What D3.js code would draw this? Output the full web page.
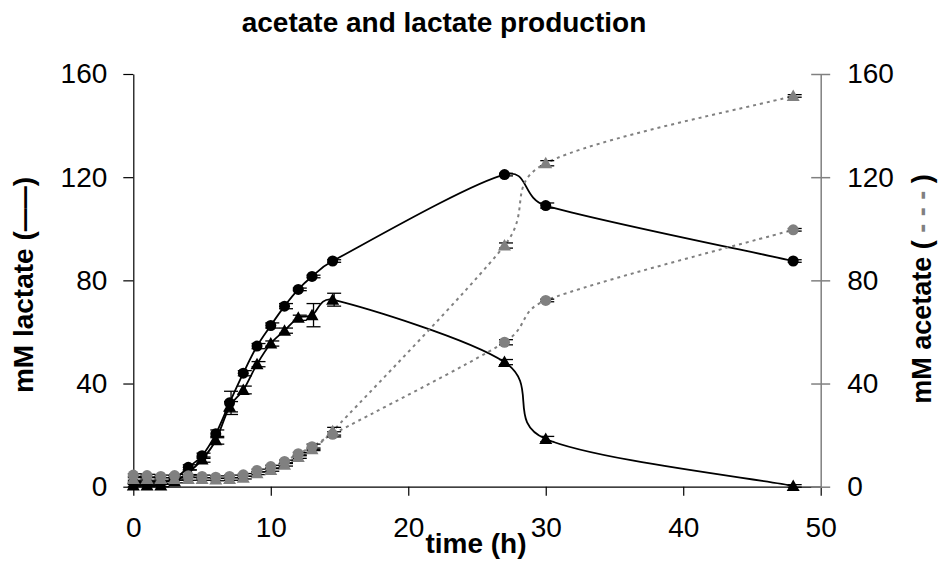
<!DOCTYPE html>
<html><head><meta charset="utf-8">
<script src="https://cdn.jsdelivr.net/npm/d3@7"></script>
<style>
body{margin:0;background:#fff}
text{font-family:"Liberation Sans",Arial,sans-serif}
</style></head>
<body><svg id="c" width="938" height="561"></svg>
<script>
const times = [0,1,2,3,4,5,6,7,8,9,10,11,12,13,14.5,27,30,48];
const lactateCircles = [1.5,1.5,1.5,3,7.5,12,20.5,32.5,44,54.5,62.5,70,76.5,81.5,87.5,121,109,87.5];
const lactateCirclesErr = [0.5,0.5,0.5,0.5,1,1,1.5,4.5,1,1,1,1,0.5,0.5,0.5,0.5,1,0.5];
const lactateTriangles = [0.5,0.5,0.5,2,5.5,10.5,18,31,37.5,47.5,55.5,60.5,65.5,66.5,72.5,48.3,18.5,0.3];
const lactateTrianglesErr = [0.5,0.5,0.5,0.5,1,1,1.5,2,1.5,1,1,1,1,4.5,2.5,1,1,0.5];
const acetateCircles = [4.5,4.3,4,4.3,4.2,4,3.7,4,4.6,6.3,7.8,9.8,12.8,15.5,20.3,56,72.2,99.6];
const acetateCirclesErr = [0.5,0.5,0.5,0.5,0.5,0.5,0.5,0.5,0.5,0.5,0.5,0.5,0.5,1,1,1,0.5,0.5];
const acetateTriangles = [3,3,3,3,3,3,2.8,3,3.5,5.2,6.5,8.5,11.5,14.5,21.5,93.5,125.4,151.5];
const acetateTrianglesErr = [0.5,0.5,0.5,0.5,0.5,0.5,0.5,0.5,0.5,0.5,0.5,0.5,0.5,0.5,1.5,1,1,0.5];
const xTicks = [0,10,20,30,40,50];
const yTicks = [0,40,80,120,160];

const svg = d3.select("#c");
const x = d3.scaleLinear().domain([0,50]).range([133.3,820.7]);
const yL = d3.scaleLinear().domain([0,160]).range([486.7,74]);
const yR = d3.scaleLinear().domain([0,160]).range([486.7,74]);

// title
svg.append("text").attr("x",444).attr("y",32).attr("text-anchor","middle")
  .attr("font-size",28).attr("font-weight","bold").text("acetate and lactate production");

// axes
const gx = svg.append("g").attr("transform","translate(0,486.7)")
  .call(d3.axisBottom(x).tickValues(xTicks).tickSize(9).tickSizeOuter(0).tickPadding(21));
gx.select(".domain").attr("stroke","#000").attr("stroke-width",1.2);
gx.selectAll(".tick line").attr("stroke","#000").attr("stroke-width",1.2);
gx.selectAll("text").attr("font-size",28).attr("font-family","Liberation Sans, Arial, sans-serif");

const gl = svg.append("g").attr("transform","translate(133.3,0)")
  .call(d3.axisLeft(yL).tickValues(yTicks).tickSize(10).tickSizeOuter(0).tickPadding(16));
gl.select(".domain").attr("stroke","#000").attr("stroke-width",1.2);
gl.selectAll(".tick line").attr("stroke","#000").attr("stroke-width",1.2);
gl.selectAll("text").attr("font-size",28).attr("font-family","Liberation Sans, Arial, sans-serif");

const gr = svg.append("g").attr("transform","translate(820.7,0)")
  .call(d3.axisRight(yR).tickValues(yTicks).tickSize(9.5).tickSizeOuter(0).tickPadding(17));
gr.select(".domain").attr("stroke","#808080").attr("stroke-width",1.5);
gr.selectAll(".tick line").attr("stroke","#808080").attr("stroke-width",1.5).attr("x1",-9.5);
gr.selectAll("text").attr("font-size",28).attr("font-family","Liberation Sans, Arial, sans-serif");

// axis titles
svg.append("text").attr("x",476).attr("y",553).attr("text-anchor","middle")
  .attr("font-size",28).attr("font-weight","bold").text("time (h)");

const lt = svg.append("text").attr("transform","translate(33,285) rotate(-90)")
  .attr("text-anchor","middle").attr("font-size",28).attr("font-weight","bold");
lt.append("tspan").text("mM lactate (");
lt.append("tspan").attr("textLength",45).attr("lengthAdjust","spacingAndGlyphs").text("\u2014\u2014");
lt.append("tspan").text(")");

const rt = svg.append("text").attr("transform","translate(931,289) rotate(-90)")
  .attr("text-anchor","middle").attr("font-size",27).attr("font-weight","bold");
rt.append("tspan").text("mM acetate (");
rt.append("tspan").attr("fill","#808080").text(" - - - ");
rt.append("tspan").text(")");

// Excel-like smoothed line: Catmull-Rom Bezier handles capped at half the segment length
function smoothPath(pts) {
  const p = d3.path();
  const n = pts.length;
  p.moveTo(pts[0][0], pts[0][1]);
  const cap = (h, len) => {
    const l = Math.hypot(h[0], h[1]);
    const m = 0.5 * len;
    return l > m ? [h[0]*m/l, h[1]*m/l] : h;
  };
  for (let i = 0; i < n - 1; i++) {
    const p0 = pts[Math.max(0, i-1)], p1 = pts[i], p2 = pts[i+1], p3 = pts[Math.min(n-1, i+2)];
    const len = Math.hypot(p2[0]-p1[0], p2[1]-p1[1]);
    const h1 = cap([(p2[0]-p0[0])/6, (p2[1]-p0[1])/6], len);
    const h2 = cap([(p3[0]-p1[0])/6, (p3[1]-p1[1])/6], len);
    p.bezierCurveTo(p1[0]+h1[0], p1[1]+h1[1], p2[0]-h2[0], p2[1]-h2[1], p2[0], p2[1]);
  }
  return p.toString();
}

// series
const series = [
  {vals: lactateTriangles, err: lactateTrianglesErr, color:"#000", dash:null, shape:"tri"},
  {vals: lactateCircles, err: lactateCirclesErr, color:"#000", dash:null, shape:"circ"},
  {vals: acetateTriangles, err: acetateTrianglesErr, color:"#808080", dash:"3,4", shape:"tri"},
  {vals: acetateCircles, err: acetateCirclesErr, color:"#808080", dash:"3,4", shape:"circ"}
];

series.forEach(s => {
  const pts = times.map((t,i) => [x(t), yL(s.vals[i])]);
  svg.append("path").attr("d", smoothPath(pts)).attr("fill","none")
    .attr("stroke", s.color).attr("stroke-width", s.dash ? 2 : 1.8)
    .attr("stroke-dasharray", s.dash);
});

series.forEach(s => {
  const g = svg.append("g");
  times.forEach((t,i) => {
    const cx = x(t), v = s.vals[i], e = s.err[i];
    const y1 = yL(v+e), y2 = yL(v-e);
    g.append("line").attr("x1",cx+1.5).attr("x2",cx+1.5).attr("y1",y1).attr("y2",y2).attr("stroke","#000").attr("stroke-width",1.3);
    [y1,y2].forEach(yy => g.append("line").attr("x1",cx-5.5).attr("x2",cx+8.5).attr("y1",yy).attr("y2",yy).attr("stroke","#000").attr("stroke-width",1.3));
  });
  times.forEach((t,i) => {
    const cx = x(t), cy = yL(s.vals[i]);
    if (s.shape === "circ") {
      g.append("circle").attr("cx",cx).attr("cy",cy).attr("r",5.5).attr("fill",s.color);
    } else {
      g.append("path").attr("d",`M${cx},${cy-6.5}L${cx+6.5},${cy+5}L${cx-6.5},${cy+5}Z`).attr("fill",s.color);
    }
  });
});
</script></body></html>
